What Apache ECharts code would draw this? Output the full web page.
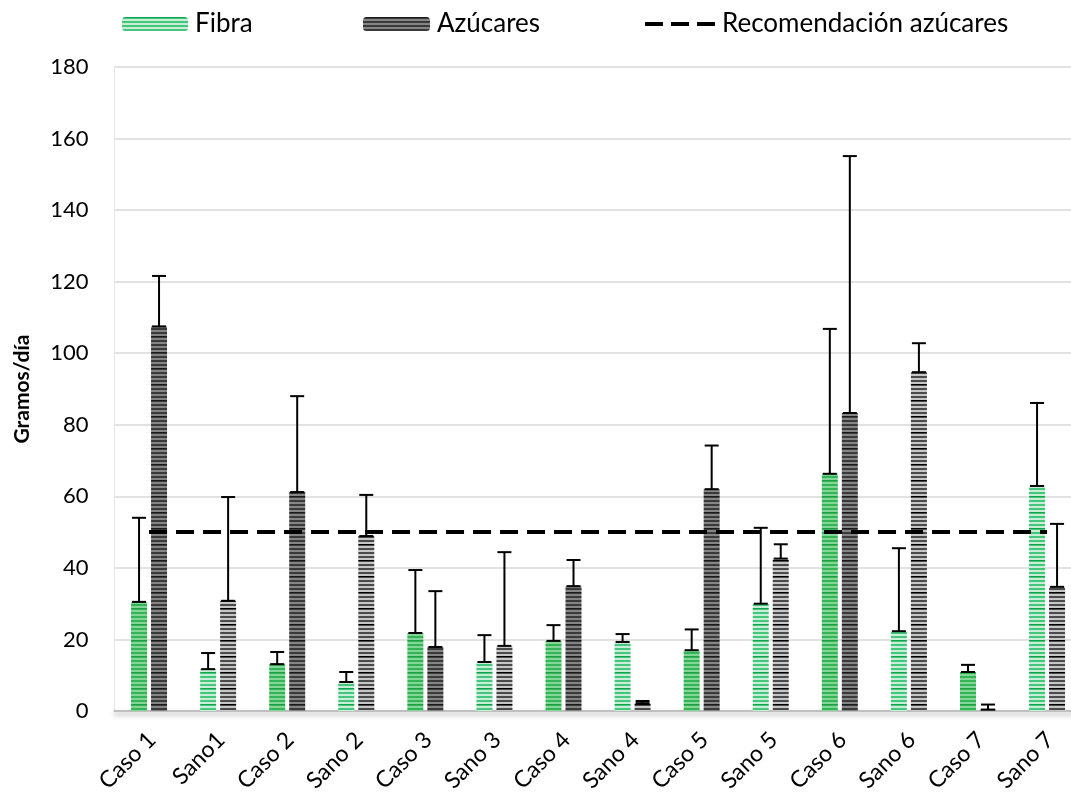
<!DOCTYPE html>
<html>
<head>
<meta charset="utf-8">
<script src="https://cdn.jsdelivr.net/npm/echarts@6/dist/echarts.min.js"></script>
<style>
html,body{margin:0;padding:0;background:#fff;}
#chart{width:1071px;height:799px;}
</style>
</head>
<body>
<div id="chart"></div>
<script>
// ---- data ----
const categories = ['Caso 1','Sano1','Caso 2','Sano 2','Caso 3','Sano 3','Caso 4','Sano 4','Caso 5','Sano 5','Caso 6','Sano 6','Caso 7','Sano 7'];
const fibra      = [30.5, 11.7, 13.1, 8.1, 21.8, 13.7, 19.6, 19.3, 17.0, 30.0, 66.3, 22.3, 10.9, 62.9];
const fibraErr   = [23.5, 4.5, 3.4, 2.8, 17.6, 7.5, 4.4, 2.2, 5.8, 21.2, 40.5, 23.2, 2.0, 23.2];
const azucares   = [107.5, 30.8, 61.2, 48.9, 17.9, 18.2, 34.9, 2.2, 62.0, 42.6, 83.3, 94.7, 0.4, 34.7];
const azucaresErr= [14.1, 29.0, 26.8, 11.5, 15.6, 26.2, 7.3, 0.6, 12.2, 4.0, 71.8, 8.1, 1.4, 17.6];
const recomendacion = [50, 50, 50, 50, 50, 50, 50, 50, 50, 50, 50, 50, 50, 50];
const yTicks = [0, 20, 40, 60, 80, 100, 120, 140, 160, 180];

// ---- stripe patterns ----
function stripe(dark, base, light) {
  const c = document.createElement('canvas');
  c.width = 4; c.height = 16;
  const g = c.getContext('2d');
  for (let r = 0; r < 16; r++) {
    const inPair = r % 4;
    let col = inPair < 2 ? base : light;
    if (r === 0) col = dark;
    g.fillStyle = col;
    g.fillRect(0, r, 4, 1);
  }
  return { image: c, repeat: 'repeat' };
}
const patFibraCaso = stripe('#1f9e44', '#33b556', '#84d598');
const patFibraSano = stripe('#12a34c', '#45c77b', '#c9eed8');
const patAzCaso    = stripe('#1a1a1a', '#3a3a3a', '#858585');
const patAzSano    = stripe('#000000', '#4a4a4a', '#c6c6c6');

const isSano = categories.map(c => c.indexOf('Sano') === 0);

const fibraData = fibra.map((v, i) => ({ value: v, itemStyle: { color: isSano[i] ? patFibraSano : patFibraCaso } }));
const azData = azucares.map((v, i) => ({ value: v, itemStyle: { color: isSano[i] ? patAzSano : patAzCaso } }));

const fibraErrData = fibra.map((v, i) => [i, v, v + fibraErr[i]]);
const azErrData = azucares.map((v, i) => [i, v, v + azucaresErr[i]]);

function errRender(offset) {
  return function (params, api) {
    const x = api.value(0);
    const lo = api.coord([x, api.value(1)]);
    const hi = api.coord([x, api.value(2)]);
    const cx = lo[0] + offset;
    const hw = 7;
    const st = { stroke: '#000', lineWidth: 2 };
    return {
      type: 'group',
      children: [
        { type: 'line', shape: { x1: cx, y1: lo[1], x2: cx, y2: hi[1] }, style: st },
        { type: 'line', shape: { x1: cx - hw, y1: hi[1], x2: cx + hw, y2: hi[1] }, style: st },
        { type: 'line', shape: { x1: cx - hw, y1: lo[1], x2: cx + hw, y2: lo[1] }, style: st }
      ]
    };
  };
}

const FONT = 'Lato';
const chart = echarts.init(document.getElementById('chart'));
const legendBase = {
  orient: 'horizontal', top: 11, padding: 0, itemHeight: 14,
  textStyle: { fontFamily: FONT, fontSize: 26, color: '#000', padding: [0, 0, 0, 2] }
};
chart.setOption({
  backgroundColor: '#fff',
  animation: false,
  textStyle: { fontFamily: FONT },
  legend: [
    Object.assign({}, legendBase, { left: 122, itemWidth: 66, data: [{ name: 'Fibra', itemStyle: { color: patFibraSano } }] }),
    Object.assign({}, legendBase, { left: 363, itemWidth: 67, data: [{ name: 'Azúcares', itemStyle: { color: patAzCaso } }] }),
    Object.assign({}, legendBase, { left: 645, itemWidth: 70, itemHeight: 4, data: [{
      name: 'Recomendación azúcares',
      icon: 'path://M0,0h18v4h-18z M26,0h18v4h-18z M52,0h18v4h-18z',
      itemStyle: { color: '#000' }
    }] })
  ],
  grid: { left: 114.5, right: -10.6, top: 67, bottom: 88, containLabel: false, outerBoundsMode: 'none' },
  xAxis: {
    type: 'category',
    data: categories,
    axisTick: { show: false },
    axisLine: { lineStyle: { color: '#bfbfbf', width: 2, shadowColor: 'rgba(0,0,0,0.35)', shadowBlur: 5, shadowOffsetY: 3 } },
    axisLabel: { rotate: 45, fontSize: 23, color: '#000', fontFamily: FONT, margin: 28, interval: 0, padding: [0, -4, 0, 0] }
  },
  yAxis: {
    type: 'value', min: 0, max: 180, interval: 20,
    name: 'Gramos/día', nameLocation: 'middle', nameGap: 82,
    nameTextStyle: { fontFamily: FONT, fontSize: 21, fontWeight: 'bold', color: '#000' },
    axisLine: { show: true, lineStyle: { color: '#e6e6e6', width: 1 } },
    axisTick: { show: false },
    axisLabel: { fontSize: 22, color: '#000', margin: 26, fontFamily: FONT,
      formatter: v => (yTicks.indexOf(v) >= 0 ? String(v) : '') },
    splitLine: { lineStyle: { color: '#d9d9d9', width: 1.5 } }
  },
  series: [
    { name: 'Fibra', type: 'bar', barWidth: 16, barGap: '25%', data: fibraData, itemStyle: { color: patFibraCaso }, z: 2 },
    { name: 'Azúcares', type: 'bar', barWidth: 16, barGap: '25%', data: azData, itemStyle: { color: patAzCaso }, z: 2 },
    { name: 'Fibra err', type: 'custom', renderItem: errRender(-10), data: fibraErrData, encode: { x: 0, y: [1, 2] }, z: 5, silent: true },
    { name: 'Azúcares err', type: 'custom', renderItem: errRender(10), data: azErrData, encode: { x: 0, y: [1, 2] }, z: 5, silent: true },
    { name: 'Recomendación azúcares', type: 'line', data: recomendacion, symbol: 'none', z: 6,
      lineStyle: { color: '#000', width: 4, type: [18, 9] }, itemStyle: { color: '#000' } }
  ]
});
</script>
</body>
</html>
